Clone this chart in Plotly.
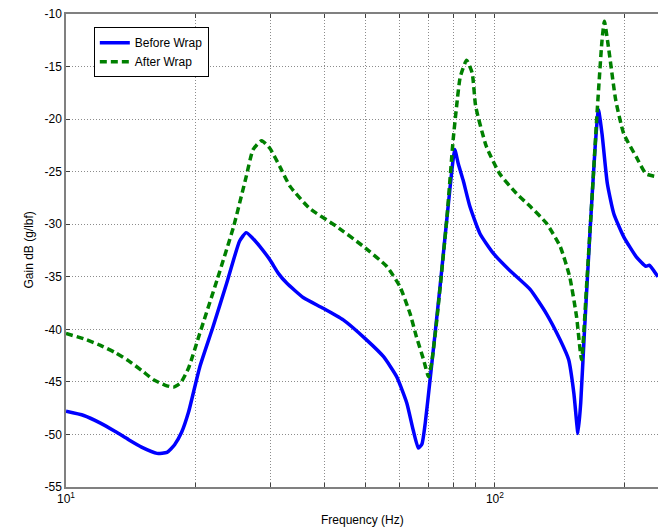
import plotly.graph_objects as go
import math

# Frequency (Hz) and gain (dB)
freq_before = [10, 11.0, 12.0, 13.0, 14.0, 15.0, 16.3, 17.2, 17.9, 18.6, 19.3, 20.5, 22.0,
               23.7, 25.4, 26.3, 27.2, 28.3, 29.9, 31.3, 32.7, 35.8, 39.8, 44.3, 50.2, 55.0,
               59.0, 62.3, 64.5, 66.3, 67.6, 68.8, 70.6, 74.5, 78.6, 80.6, 82.2, 84.3, 87.4,
               92.3, 99.3, 108.3, 120.8, 131.8, 141.9, 148.6, 152.8, 156.2, 158.5, 161.6,
               166.5, 171.1, 174.3, 177.7, 182.8, 189.3, 199.7, 213.6, 225, 229, 240]
gain_before = [-47.8, -48.2, -48.9, -49.7, -50.5, -51.2, -51.8, -51.7, -51.0, -49.8, -47.9,
               -43.6, -39.8, -35.6, -31.6, -30.8, -31.3, -32.1, -33.4, -34.7, -35.6, -37.0,
               -38.0, -39.1, -41.0, -42.6, -44.5, -47.0, -49.6, -51.3, -50.9, -48.9, -44.8,
               -35.9, -26.5, -22.9, -24.3, -25.8, -28.3, -30.9, -32.8, -34.4, -36.2, -38.5,
               -41.0, -42.9, -46.1, -49.9, -47.0, -40.4, -30.9, -22.9, -19.1, -21.4, -26.1,
               -29.0, -31.2, -33.1, -34.0, -33.9, -35.0]

freq_after = [10, 11.0, 12.0, 13.0, 14.0, 15.0, 16.0, 17.0, 17.8, 18.5, 19.3, 20.5, 22.5,
              24.6, 26.3, 27.3, 28.6, 29.9, 31.5, 33.3, 37.0, 42.7, 49.3, 55.9, 60.0, 63.4,
              65.6, 68.2, 70.0, 71.2, 73.2, 77.2, 79.9, 81.4, 83.0, 85.9, 88.5, 90.2, 95.5,
              102.6, 112.4, 120.8, 131.8, 141.9, 149.4, 155, 159.2, 163.7, 168.3, 172.8,
              177.7, 180, 184.3, 191.3, 199.7, 213.6, 225, 240]
gain_after = [-40.4, -40.9, -41.5, -42.2, -43.0, -43.9, -44.8, -45.3, -45.5, -45.1, -43.7,
              -40.4, -35.3, -30.2, -25.5, -22.9, -22.05, -22.8, -24.5, -26.4, -28.5, -30.2,
              -32.1, -34.0, -35.9, -38.5, -40.7, -42.9, -44.5, -43.2, -39.1, -29.6, -22.0,
              -18.8, -16.0, -14.4, -15.6, -18.8, -22.6, -25.2, -27.1, -28.3, -29.9, -32.1,
              -35.0, -38.8, -42.9, -35.6, -27.7, -19.8, -12.5, -10.7, -13.4, -18.2, -21.4,
              -23.6, -25.2, -25.5]

x_major_vals = [10, 100]
x_major_text = ["10<sup>1</sup>", "10<sup>2</sup>"]
x_minor_vals = [20, 30, 40, 50, 60, 70, 80, 90, 200]
y_tick_vals = [-55, -50, -45, -40, -35, -30, -25, -20, -15, -10]
y_tick_text = ["-55", "-50", "-45", "-40", "-35", "-30", "-25", "-20", "-15", "-10"]

FONT = "Liberation Sans, Arial, sans-serif"
GRID = "#8c8c8c"
GDASH = "1px,2px"

fig = go.Figure()
fig.add_trace(go.Scatter(x=freq_before, y=gain_before, mode="lines", name="Before Wrap",
                         line=dict(color="#0000FF", width=3.5, shape="spline", smoothing=0.5)))
fig.add_trace(go.Scatter(x=freq_after, y=gain_after, mode="lines", name="After Wrap",
                         line=dict(color="#008000", width=3.5, dash="7px,4px",
                                   shape="spline", smoothing=0.5)))

fig.update_layout(
    width=658, height=529,
    margin=dict(l=66, r=0, t=14, b=42),
    paper_bgcolor="white", plot_bgcolor="white",
    font=dict(family=FONT, size=12, color="black"),
    showlegend=True,
    legend=dict(x=0.047, y=0.972, xanchor="left", yanchor="top",
                bgcolor="white", bordercolor="black", borderwidth=1,
                font=dict(family=FONT, size=12), tracegroupgap=0),
    annotations=[
        dict(text="Frequency (Hz)", xref="paper", yref="paper", x=0.5, y=0,
             yshift=-33, showarrow=False, xanchor="center", yanchor="middle",
             font=dict(family=FONT, size=12)),
        dict(text="Gain dB (g/lbf)", xref="paper", yref="paper", x=0, y=0.5,
             xshift=-38, textangle=-90, showarrow=False, xanchor="center", yanchor="middle",
             font=dict(family=FONT, size=12)),
    ],
)
fig.update_xaxes(type="log", range=[1, math.log10(240)],
                 tickmode="array", tickvals=x_major_vals, ticktext=x_major_text,
                 showgrid=True, gridcolor=GRID, griddash=GDASH, gridwidth=1,
                 minor=dict(tickmode="array", tickvals=x_minor_vals, showgrid=True,
                            gridcolor=GRID, griddash=GDASH, gridwidth=1,
                            ticks="inside", ticklen=4, tickcolor="#404040"),
                 showline=True, linecolor="#808080", linewidth=1.5, mirror="ticks",
                 ticks="inside", ticklen=4, tickcolor="#404040",
                 zeroline=False, tickfont=dict(family=FONT, size=12))
fig.update_yaxes(range=[-55, -10],
                 tickmode="array", tickvals=y_tick_vals, ticktext=y_tick_text,
                 showgrid=True, gridcolor=GRID, griddash=GDASH, gridwidth=1,
                 showline=True, linecolor="#808080", linewidth=1.5,
                 ticks="inside", ticklen=4, tickcolor="#404040",
                 zeroline=False, tickfont=dict(family=FONT, size=12))

fig.write_html("out.html", config={"displayModeBar": False},
               post_script="document.body.style.margin='0';")
